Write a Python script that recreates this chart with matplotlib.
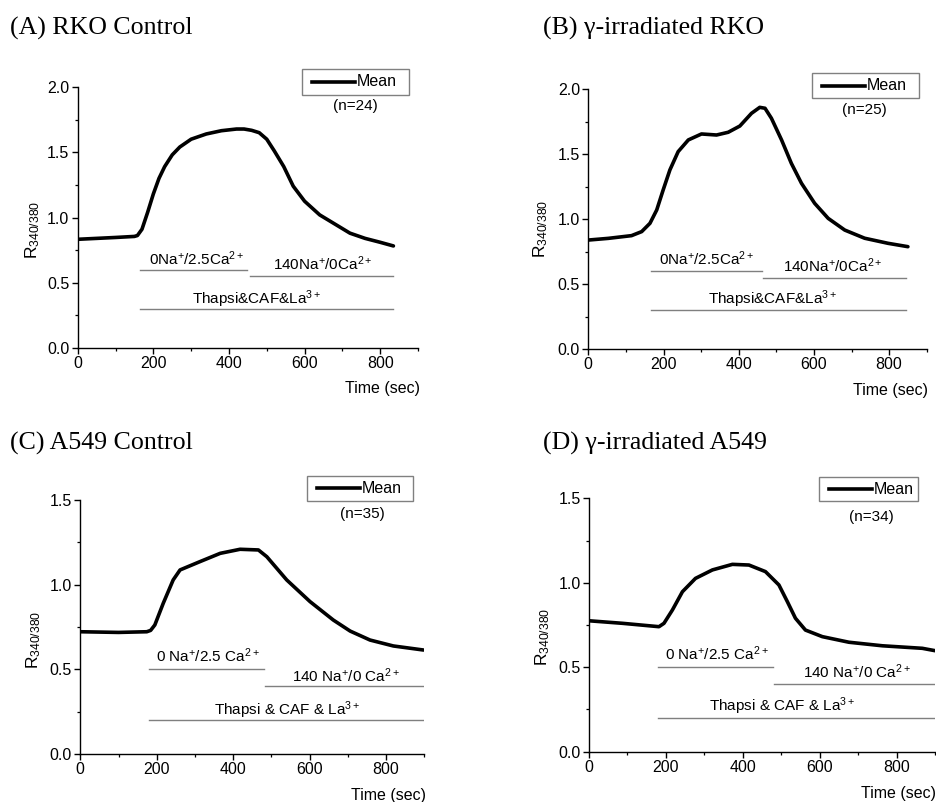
import matplotlib
matplotlib.use("Agg")
import matplotlib.pyplot as plt
from matplotlib.ticker import MultipleLocator, FormatStrFormatter
from matplotlib.patches import Rectangle
from matplotlib.lines import Line2D
import matplotlib.transforms as mtransforms

plt.rcParams['font.family'] = ['Liberation Sans', 'DejaVu Sans']
plt.rcParams['mathtext.fontset'] = 'custom'
plt.rcParams['mathtext.rm'] = 'Liberation Sans'
plt.rcParams['mathtext.it'] = 'Liberation Sans:italic'
plt.rcParams['mathtext.bf'] = 'Liberation Sans:bold'

# ---------------- data ----------------
titles = ["(A) RKO Control", "(B) \u03b3-irradiated RKO",
          "(C) A549 Control", "(D) \u03b3-irradiated A549"]
n_labels = ["(n=24)", "(n=25)", "(n=35)", "(n=34)"]

t_A = [0, 50, 100, 150, 158, 170, 185, 200, 215, 230, 250, 270, 300, 340, 380,
       420, 440, 460, 480, 500, 520, 545, 570, 600, 640, 680, 720, 760, 800, 835]
y_A = [0.833, 0.840, 0.847, 0.855, 0.862, 0.91, 1.04, 1.18, 1.30, 1.39, 1.48, 1.54,
       1.60, 1.64, 1.665, 1.678, 1.678, 1.668, 1.650, 1.60, 1.51, 1.39, 1.24, 1.125,
       1.02, 0.95, 0.88, 0.84, 0.81, 0.782]

t_B = [0, 53, 115, 142, 164, 182, 199, 217, 239, 266, 301, 341, 372, 403, 434,
       456, 470, 487, 514, 540, 567, 602, 638, 682, 735, 797, 850]
y_B = [0.839, 0.852, 0.873, 0.904, 0.968, 1.071, 1.224, 1.379, 1.52, 1.61, 1.656,
       1.648, 1.669, 1.717, 1.815, 1.861, 1.854, 1.777, 1.61, 1.43, 1.276, 1.122,
       1.006, 0.916, 0.853, 0.814, 0.788]

t_C = [0, 100, 174, 184, 195, 217, 243, 261, 313, 366, 418, 466, 488, 540, 601,
       662, 706, 758, 819, 898]
y_C = [0.722, 0.718, 0.722, 0.730, 0.762, 0.89, 1.028, 1.087, 1.136, 1.185, 1.209,
       1.205, 1.165, 1.028, 0.90, 0.791, 0.726, 0.673, 0.638, 0.614]

t_D = [0, 87, 182, 195, 217, 243, 277, 321, 373, 416, 459, 494, 516, 537, 563,
       607, 676, 763, 867, 900]
y_D = [0.775, 0.760, 0.740, 0.760, 0.839, 0.947, 1.026, 1.076, 1.109, 1.105, 1.066,
       0.987, 0.888, 0.790, 0.720, 0.681, 0.648, 0.627, 0.612, 0.598]

# treatment bars: (label, start, end, level)
bars_A = [(r'0Na$^{+}$/2.5Ca$^{2+}$', 165, 449, 0.60),
          (r'140Na$^{+}$/0Ca$^{2+}$', 456, 835, 0.55),
          (r'Thapsi&CAF&La$^{3+}$', 165, 835, 0.30)]
bars_B = [(r'0Na$^{+}$/2.5Ca$^{2+}$', 166, 461, 0.60),
          (r'140Na$^{+}$/0Ca$^{2+}$', 465, 846, 0.55),
          (r'Thapsi&CAF&La$^{3+}$', 166, 846, 0.30)]
bars_C = [(r'0 Na$^{+}$/2.5 Ca$^{2+}$', 180, 480, 0.50),
          (r'140 Na$^{+}$/0 Ca$^{2+}$', 483, 900, 0.40),
          (r'Thapsi & CAF & La$^{3+}$', 180, 900, 0.20)]
bars_D = [(r'0 Na$^{+}$/2.5 Ca$^{2+}$', 180, 479, 0.50),
          (r'140 Na$^{+}$/0 Ca$^{2+}$', 481, 900, 0.40),
          (r'Thapsi & CAF & La$^{3+}$', 180, 900, 0.20)]
# label centres (data x) for the bar texts
bar_text_x = [[315, 649, 474], [315, 651, 491], [333, 695, 542], [332, 696, 501]]

ylims = [2.0, 2.0, 1.5, 1.5]

# ---------------- layout ----------------
W, H = 936, 802
fig = plt.figure(figsize=(W / 100, H / 100), dpi=100)

axes_px = [(77.7, 418.0, 87.0, 348.0),
           (588.3, 926.7, 89.3, 349.0),
           (80.3, 424.3, 500.0, 754.0),
           (589.0, 935.0, 498.3, 751.7)]
title_px = [(10, 35), (542.7, 35), (10, 450), (542.7, 450)]
# legend boxes in figure pixels: (left, right, top, bottom)
legend_px = [(302.0, 409.0, 69.0, 94.5),
             (812.3, 919.3, 72.7, 98.3),
             (307.3, 413.3, 475.7, 501.0),
             (819.3, 918.3, 477.3, 501.0)]
n_pos = [(0.815, 0.927), (0.815, 0.920), (0.820, 0.945), (0.816, 0.927)]
ylabel_pos = [(-0.105, 0.452), (-0.113, 0.462), (-0.1075, 0.449), (-0.108, 0.454)]
xlabel_pos = [(1.006, -0.128), (1.004, -0.129), (1.005, -0.133), (1.003, -0.135)]
text_offsets = [(5, 6, 5), (6, 6, 6), (7, 4, 5), (7, 6, 6.5)]

series = [(t_A, y_A), (t_B, y_B), (t_C, y_C), (t_D, y_D)]
bars_all = [bars_A, bars_B, bars_C, bars_D]

pix = mtransforms.Affine2D().scale(1.0 / W, 1.0 / H) + mtransforms.Affine2D().scale(1, -1).translate(0, 1)


def fpx(x, y):
    return x / W, 1 - y / H


for i in range(4):
    l, r, top, bot = axes_px[i]
    ax = fig.add_axes([l / W, 1 - bot / H, (r - l) / W, (bot - top) / H])
    t, y = series[i]
    ax.plot(t, y, color='black', lw=2.6, solid_joinstyle='round',
            solid_capstyle='round', label='Mean')
    ax.set_xlim(0, 900)
    ax.set_ylim(0, ylims[i])
    ax.xaxis.set_major_locator(MultipleLocator(200))
    ax.xaxis.set_minor_locator(MultipleLocator(100))
    ax.yaxis.set_major_locator(MultipleLocator(0.5))
    ax.yaxis.set_minor_locator(MultipleLocator(0.25))
    ax.yaxis.set_major_formatter(FormatStrFormatter('%.1f'))
    for s in ['top', 'right']:
        ax.spines[s].set_visible(False)
    for s in ['left', 'bottom']:
        ax.spines[s].set_linewidth(1.0)
    ax.tick_params(which='major', direction='out', length=4, width=1.0,
                   labelsize=11.5, pad=2)
    ax.tick_params(which='minor', direction='out', length=2.5, width=0.9)

    # treatment bars
    for j, (lab, x0, x1, lev) in enumerate(bars_all[i]):
        ax.plot([x0, x1], [lev, lev], color='#7f7f7f', lw=1.0)
        ax.annotate(lab, xy=(bar_text_x[i][j], lev), xytext=(0, text_offsets[i][j] * 0.72),
                    textcoords='offset points', ha='center', va='baseline', fontsize=11)

    # legend box (drawn in figure pixel space)
    bl, br, bt, bb = legend_px[i]
    x0, y0 = fpx(bl, bb)
    x1, y1 = fpx(br, bt)
    fig.patches.append(Rectangle((x0, y0), x1 - x0, y1 - y0, transform=fig.transFigure,
                                 facecolor='white', edgecolor='#808080', lw=1.0))
    ymid = (bt + bb) / 2
    lx0, ly = fpx(bl + 9.5, ymid)
    lx1, _ = fpx(bl + 53, ymid)
    fig.lines.append(Line2D([lx0, lx1], [ly, ly], transform=fig.transFigure,
                            color='black', lw=2.6))
    tx, ty = fpx(bl + 54.5, ymid)
    fig.text(tx, ty, 'Mean', ha='left', va='center', fontsize=11.5)

    ax.text(n_pos[i][0], n_pos[i][1], n_labels[i], transform=ax.transAxes,
            ha='center', va='center', fontsize=11)

    ax.set_ylabel(r'R$_{\mathrm{340/380}}$', fontsize=12.5)
    ax.yaxis.set_label_coords(*ylabel_pos[i])
    ax.set_xlabel('Time (sec)', fontsize=11.5)
    ax.xaxis.label.set_ha('right')
    ax.xaxis.set_label_coords(*xlabel_pos[i])

    fig.text(title_px[i][0] / W, 1 - title_px[i][1] / H, titles[i],
             family='Liberation Serif', fontsize=18.6, ha='left', va='baseline')

fig.savefig('out.png', dpi=100)
